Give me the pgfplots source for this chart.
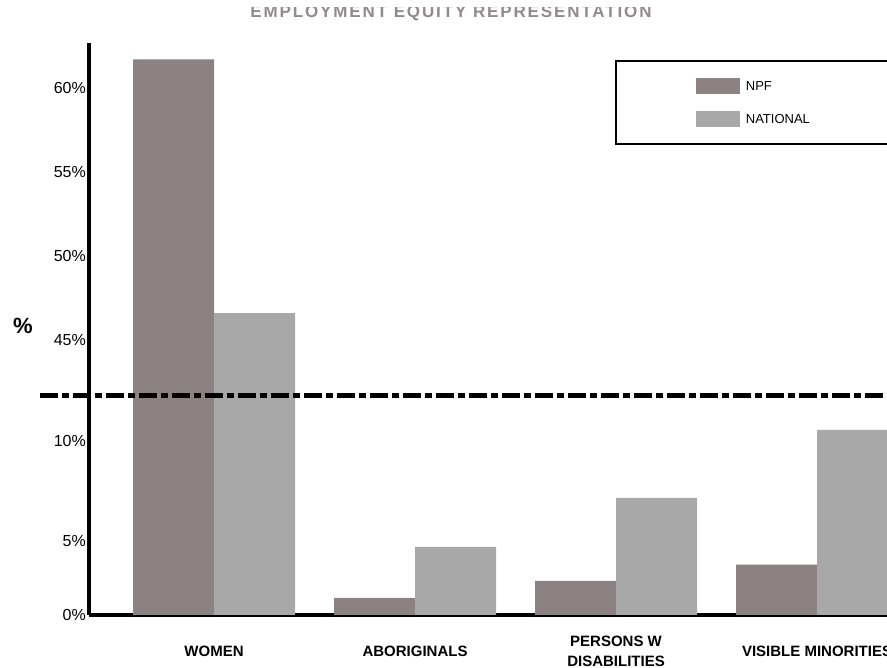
\documentclass[border=0pt]{standalone}
\usepackage{fontspec}
\setmainfont{Liberation Sans}
\usepackage{pgfplots}
\pgfplotsset{compat=1.18}
\definecolor{npf}{RGB}{140,130,131}
\definecolor{natl}{RGB}{168,168,168}
\definecolor{titlegray}{RGB}{145,138,140}
\begin{document}
\begin{tikzpicture}
\useasboundingbox (0,0) rectangle (887pt,668pt);
\clip (0,0) rectangle (887pt,668pt);
\begin{axis}[
  at={(89pt,53pt)}, anchor=south west,
  scale only axis, width=798pt, height=572pt,
  clip=false,
  ybar=0pt,
  bar width=81pt,
  xmin=-0.622, xmax=3.348,
  ymin=0, ymax=62.68,
  y coord trafo/.code={\pgfmathparse{(#1<=5)*14.8*#1 + (#1>5)*(#1<30)*(74+20*(#1-5)) + (#1>=30)*(275+16.8*(#1-45))}},
  axis x line=bottom, axis y line=left,
  axis line style={line width=4pt, -},
  major tick length=0pt,
  xtick={0,1,2,3},
  xticklabels={WOMEN, ABORIGINALS, {PERSONS W\\DISABILITIES}, VISIBLE MINORITIES},
  xticklabel style={align=center, anchor=center, yshift=-36pt, font=\fontsize{15}{20}\selectfont\bfseries},
  ytick={0,5,10,45,50,55,60},
  yticklabels={0\%,5\%,10\%,45\%,50\%,55\%,60\%},
  yticklabel style={anchor=east, inner sep=0pt, xshift=-3pt, font=\fontsize{16}{18}\selectfont},
  /pgf/number format/assume math mode=true,
  legend style={at={(axis description cs:0.659,0.970)}, anchor=north west,
    draw=black, line width=2pt, fill=white,
    inner xsep=80pt, inner ysep=17pt, row sep=17pt, column sep=6pt,
    font=\fontsize{13}{15}\selectfont,
    nodes={inner sep=0pt, text height=12pt, text depth=4pt, anchor=west}},
  legend image code/.code={\path[#1, draw=none, line width=0pt] (0pt,-8pt) rectangle (44pt,8pt);},
]
\addplot[fill=npf, draw=none, bar shift=-40.5pt] coordinates {(0,61.7) (1,1.15) (2,2.3) (3,3.4)};
\addlegendentry{NPF}
\addplot[fill=natl, draw=none, bar shift=40.5pt] coordinates {(0,46.6) (1,4.6) (2,7.15) (3,10.55)};
\addlegendentry{NATIONAL}
\draw[line width=5pt, dash pattern=on 18pt off 4pt on 7pt off 4pt] (axis description cs:-0.0614,0.3829) -- (axis description cs:1.02,0.3829);
\node[font=\fontsize{22}{24}\selectfont\bfseries] at (axis description cs:-0.0827,0.505) {\%};
\end{axis}
\begin{scope}
\clip (0,0) rectangle (887pt,660pt);
\node[anchor=base, font=\fontsize{17}{20}\selectfont\bfseries\addfontfeature{LetterSpace=11}, text=titlegray, inner sep=0pt] at (451pt,650pt) {EMPLOYMENT EQUITY REPRESENTATION};
\end{scope}
\end{tikzpicture}
\end{document}
